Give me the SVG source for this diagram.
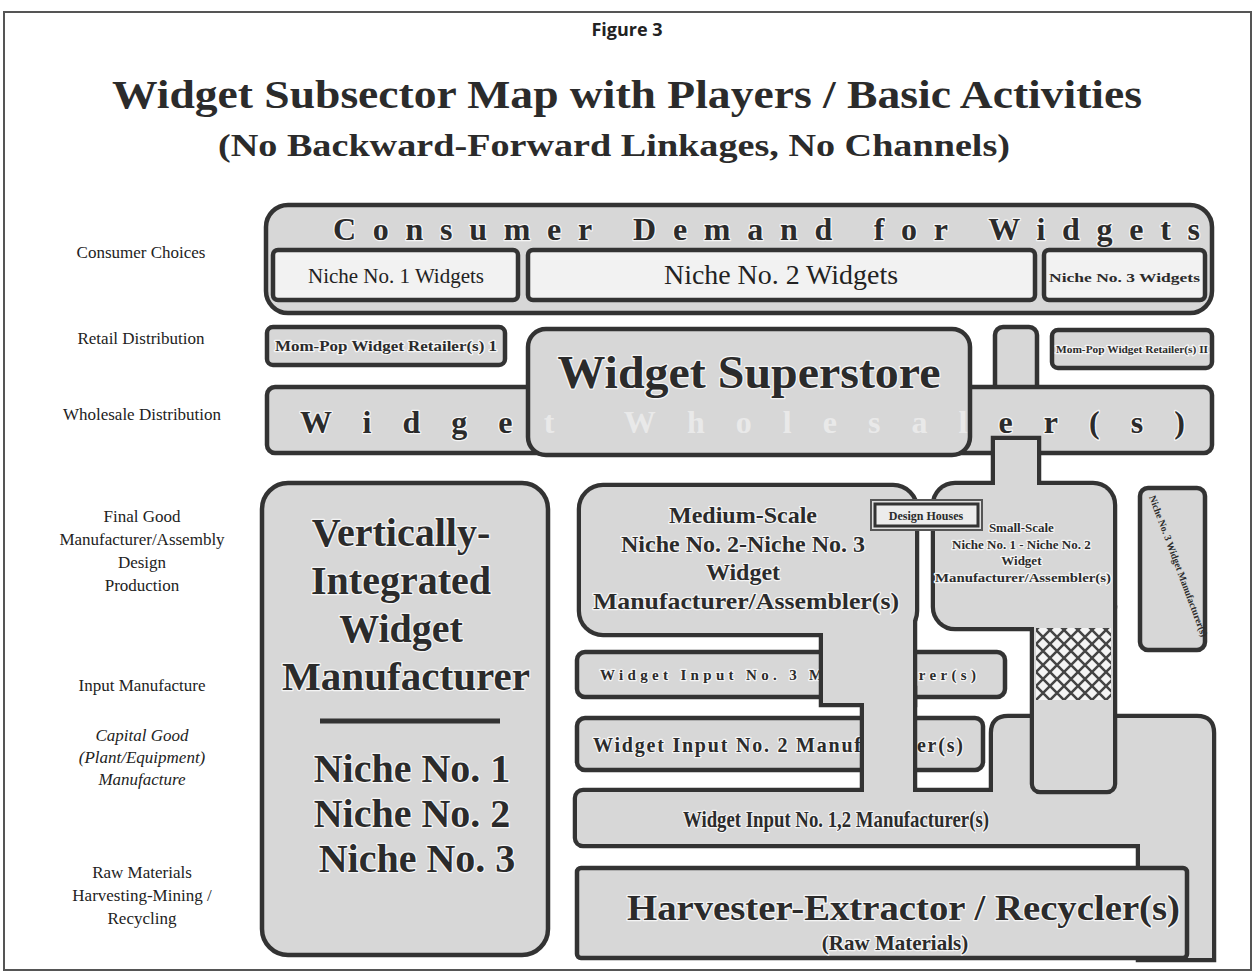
<svg xmlns="http://www.w3.org/2000/svg" width="1254" height="975" viewBox="0 0 1254 975">
<style>
.bg{fill:#ffffff}
.box{fill:#d7d7d7;stroke:#333;stroke-width:4.5}
.wbox{fill:#f2f2f2;stroke:#333;stroke-width:4.5}
.sk{fill:none;stroke:#333;stroke-width:8.5}
.fl{fill:#d7d7d7;stroke:none}
.lbl{font-family:"Liberation Serif","Times New Roman",serif;fill:#222}
.b{font-family:"Liberation Serif","Times New Roman",serif;font-weight:bold;fill:#2b2b2b}
.h{stroke:#f4f4f4;stroke-width:2.5;paint-order:stroke;stroke-linejoin:round}
.c{text-anchor:middle}
</style>
<defs>
<pattern id="hatch" width="14" height="14" patternUnits="userSpaceOnUse">
<rect width="14" height="14" fill="#f4f4f4"/>
<path d="M0,0 L14,14 M14,0 L0,14" stroke="#444" stroke-width="2.5"/>
</pattern>
<clipPath id="ssclip"><rect x="530" y="389" width="438" height="63"/></clipPath>
<clipPath id="mp2clip"><rect x="1054" y="332" width="156" height="34"/></clipPath>
</defs>
<rect class="bg" x="0" y="0" width="1254" height="975"/>
<rect x="4" y="12" width="1247" height="958" fill="none" stroke="#555" stroke-width="2"/>

<g id="titles">
<text x="627" y="36" class="c" style="font-family:'Open Sans','DejaVu Sans',sans-serif;font-weight:bold;font-size:18px;fill:#222">Figure 3</text>
<text x="627" y="108" class="b c" font-size="40" textLength="1030" lengthAdjust="spacingAndGlyphs">Widget Subsector Map with Players / Basic Activities</text>
<text x="614" y="156" class="b c" font-size="32" textLength="792" lengthAdjust="spacingAndGlyphs">(No Backward-Forward Linkages, No Channels)</text>
</g>

<g id="row-labels" font-size="17">
<text class="lbl c" x="141" y="258">Consumer Choices</text>
<text class="lbl c" x="141" y="344">Retail Distribution</text>
<text class="lbl c" x="142" y="420">Wholesale Distribution</text>
<text class="lbl c" x="142" y="522">Final Good</text>
<text class="lbl c" x="142" y="545">Manufacturer/Assembly</text>
<text class="lbl c" x="142" y="568">Design</text>
<text class="lbl c" x="142" y="591">Production</text>
<text class="lbl c" x="142" y="691">Input Manufacture</text>
<text class="lbl c" x="142" y="741" font-style="italic">Capital Good</text>
<text class="lbl c" x="142" y="763" font-style="italic">(Plant/Equipment)</text>
<text class="lbl c" x="142" y="785" font-style="italic">Manufacture</text>
<text class="lbl c" x="142" y="878">Raw Materials</text>
<text class="lbl c" x="142" y="901">Harvesting-Mining /</text>
<text class="lbl c" x="142" y="924">Recycling</text>
</g>

<g id="consumer-demand">
<rect class="box" x="266" y="205" width="946" height="108" rx="22"/>
<text class="b h" x="333" y="240" font-size="32" textLength="867" lengthAdjust="spacing">Consumer Demand for Widgets</text>
</g>
<g id="niche1-widgets">
<rect class="wbox" x="273" y="250" width="245" height="50" rx="5"/>
<text class="lbl c" x="396" y="283" font-size="20" textLength="176" lengthAdjust="spacingAndGlyphs">Niche No. 1 Widgets</text>
</g>
<g id="niche2-widgets">
<rect class="wbox" x="528" y="250" width="507" height="50" rx="5"/>
<text class="lbl c" x="781" y="284" font-size="28" textLength="234" lengthAdjust="spacingAndGlyphs">Niche No.  2 Widgets</text>
</g>
<g id="niche3-widgets">
<rect class="wbox" x="1044" y="250" width="161" height="50" rx="5"/>
<text class="b" x="1049" y="282" font-size="13" textLength="151" lengthAdjust="spacingAndGlyphs">Niche No. 3 Widgets</text>
</g>

<g id="mom-pop-1">
<rect class="box" x="267" y="327" width="238" height="38" rx="6"/>
<text class="b h c" x="386" y="351" font-size="14" textLength="222" lengthAdjust="spacingAndGlyphs">Mom-Pop Widget Retailer(s) 1</text>
</g>
<g id="mom-pop-2">
<rect class="box" x="1052" y="330" width="160" height="38" rx="6"/>
<text class="b h" x="1056" y="353" font-size="10" textLength="152" lengthAdjust="spacingAndGlyphs" clip-path="url(#mp2clip)">Mom-Pop Widget Retailer(s) II</text>
</g>

<g id="small-scale-top-stem">
<rect class="box" x="995" y="327" width="42" height="75" rx="8"/>
</g>

<g id="wholesaler">
<rect class="box" x="267" y="387" width="945" height="66" rx="8"/>
<text class="b h" x="300" y="433" font-size="32" textLength="885" lengthAdjust="spacing">Widget Wholesaler(s)</text>
</g>

<g id="superstore">
<rect class="box" x="528" y="329" width="442" height="126" rx="18"/>
<text x="300" y="433" font-size="32" textLength="885" lengthAdjust="spacing" clip-path="url(#ssclip)" style="font-family:'Liberation Serif',serif;font-weight:bold;fill:#f0f0f0;opacity:0.75">Widget Wholesaler(s)</text>
<text class="b h c" x="749" y="388" font-size="46" textLength="383" lengthAdjust="spacingAndGlyphs">Widget Superstore</text>
</g>

<g id="vertically-integrated">
<rect class="box" x="262" y="483" width="286" height="472" rx="26"/>
<text class="b h c" font-size="40">
<tspan x="406" y="546">Vertically-</tspan>
<tspan x="406" y="594">Integrated</tspan>
<tspan x="406" y="642">Widget</tspan>
<tspan x="406" y="690" textLength="248" lengthAdjust="spacingAndGlyphs">Manufacturer</tspan>
</text>
<line x1="320" y1="721" x2="500" y2="721" stroke="#333" stroke-width="5"/>
<text class="b h c" font-size="40">
<tspan x="417" y="782">Niche No. 1</tspan>
<tspan x="417" y="827">Niche No. 2</tspan>
<tspan x="417" y="872">Niche No. 3</tspan>
</text>
</g>

<g id="input-3">
<rect class="box" x="577" y="652" width="428" height="45" rx="8"/>
<text class="b h" x="600" y="680" font-size="15" textLength="376" lengthAdjust="spacing">Widget Input No. 3 Manufacturer(s)</text>
</g>
<g id="input-2">
<rect class="box" x="577" y="718" width="406" height="52" rx="8"/>
<text class="b h" x="593" y="752" font-size="20" textLength="370" lengthAdjust="spacing">Widget  Input  No. 2  Manufacturer(s)</text>
</g>

<g id="medium-scale-and-inputs-1-2">
<g class="sk">
<rect x="581" y="487" width="334" height="146" rx="22"/>
<rect x="823" y="600" width="90" height="103"/>
<rect x="864" y="690" width="49" height="110"/>
<rect x="577" y="792" width="570" height="52" rx="6"/>
<path d="M993,733 Q993,718 1008,718 L1197,718 Q1212,718 1212,733 L1212,958 L1140,958 L1140,800 L993,800 Z"/>
</g>
<g class="fl">
<rect x="581" y="487" width="334" height="146" rx="22"/>
<rect x="823" y="600" width="90" height="103"/>
<rect x="864" y="690" width="49" height="110"/>
<rect x="577" y="792" width="570" height="52" rx="6"/>
<path d="M993,733 Q993,718 1008,718 L1197,718 Q1212,718 1212,733 L1212,958 L1140,958 L1140,800 L993,800 Z"/>
</g>
<text class="b h c" font-size="24">
<tspan x="746" y="523">Medium-Scale</tspan>
<tspan x="746" y="552">Niche No. 2-Niche No. 3</tspan>
<tspan x="746" y="580">Widget</tspan>
<tspan x="746" y="609" textLength="306" lengthAdjust="spacingAndGlyphs">Manufacturer/Assembler(s)</tspan>
</text>
<text class="b h c" x="836" y="827" font-size="23" textLength="306" lengthAdjust="spacingAndGlyphs">Widget Input No. 1,2  Manufacturer(s)</text>
</g>

<g id="harvester">
<rect class="box" x="577" y="868" width="610" height="90" rx="4"/>
<text class="b h" x="627" y="920" font-size="36" textLength="553" lengthAdjust="spacingAndGlyphs">Harvester-Extractor / Recycler(s)</text>
<text class="b h c" x="895" y="950" font-size="21">(Raw Materials)</text>
</g>

<g id="small-scale">
<g class="sk">
<rect x="995" y="440" width="42" height="60"/>
<rect x="935" y="485" width="178" height="142" rx="20"/>
<rect x="1034" y="600" width="79" height="190" rx="6"/>
</g>
<g class="fl">
<rect x="995" y="440" width="42" height="60"/>
<rect x="935" y="485" width="178" height="142" rx="20"/>
<rect x="1034" y="600" width="79" height="190" rx="6"/>
</g>
<rect x="1036" y="628" width="75" height="72" fill="url(#hatch)"/>
<text class="b h c" font-size="13">
<tspan x="1023" y="532">Small-Scale</tspan>
<tspan x="1023" y="549">Niche No. 1 - Niche No. 2</tspan>
<tspan x="1023" y="565">Widget</tspan>
<tspan x="1023" y="582" textLength="176" lengthAdjust="spacingAndGlyphs">Manufacturer/Assembler(s)</tspan>
</text>
</g>

<g id="design-houses">
<rect x="871" y="500" width="111" height="30" fill="#e0e0e0" stroke="#555" stroke-width="2"/>
<rect x="875" y="504" width="103" height="22" fill="#ececec" stroke="#333" stroke-width="3"/>
<text class="b c" x="926" y="520" font-size="12">Design Houses</text>
</g>

<g id="niche3-manufacturer">
<rect class="box" x="1140" y="488" width="65" height="162" rx="8"/>
<text class="b" font-size="10" transform="translate(1149,497) rotate(69.5)" textLength="150" lengthAdjust="spacingAndGlyphs">Niche No. 3 Widget Manufacturer(s)</text>
</g>
</svg>
